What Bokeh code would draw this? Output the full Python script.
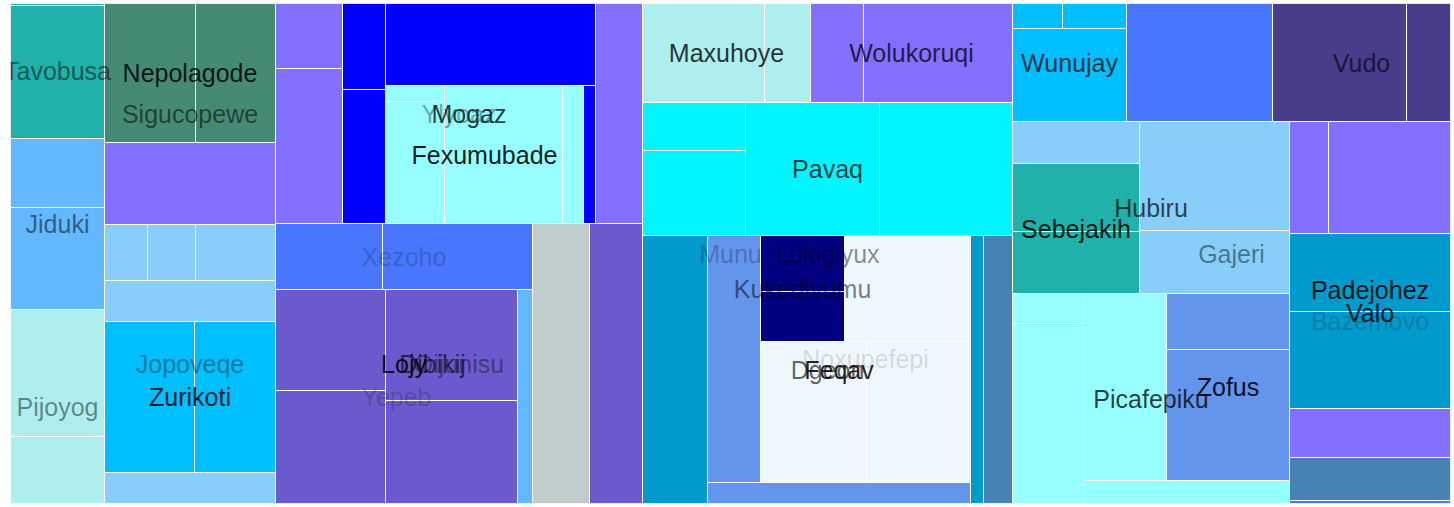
from bokeh.plotting import figure
from bokeh.models import Range1d, ColumnDataSource
from bokeh.core.properties import value
from bokeh.embed import file_html
from bokeh.resources import INLINE

# ---- hierarchy (pre-order); leaves carry a value (area) and a colour, groups a split direction
node = ["root",
        "A", "A1", "tav", "a1", "a2", "jid", "a3", "a4", "pij", "a5", "a6",
        "A2", "sig", "nep", "a7", "a8", "a9", "jop", "jt", "jr", "a10", "a11", "a12", "a13",
        "zur", "a14", "a15", "a16",
        "A3", "yly", "lc", "a17", "a18", "mog", "bc", "a19", "a20", "mid", "a21", "mr", "fex",
        "fc", "a22", "a23", "a24", "a25", "a26", "a27",
        "oij", "dib", "loj", "xez", "a28", "a29", "yr", "yep", "y1", "a30", "a31", "y2", "a32", "a33",
        "a34", "a35", "a36",
        "B", "bt", "br1", "max", "b1", "b2", "wol", "b3", "b4", "pav", "pc", "b5", "b6", "b7", "b8",
        "dge", "b9", "feq", "fr", "b10", "nox", "nr", "kuk", "b11", "b12", "b13", "nr2", "b14", "b15",
        "b16", "b17", "b18",
        "C", "ct", "wun", "wr", "c1", "c2", "c3", "c4", "vud", "c5", "c6",
        "cb", "cl", "hub", "hc1", "c7", "seb", "c8", "c9", "hc2", "c10", "c11",
        "pic", "pc1", "c12", "c13", "pc2", "pr", "c14", "zof", "c15", "c16", "c17",
        "val", "pad", "pr1", "c18", "c19", "baz", "c20", "c21", "c22", "c23", "c24"]

parent = ["",
          "root", "A", "A1", "tav", "tav", "A1", "jid", "jid", "A1", "pij", "pij",
          "A", "A2", "sig", "nep", "nep", "sig", "A2", "jop", "jt", "jr", "jr", "jr", "jt",
          "jop", "zur", "zur", "jop",
          "A", "A3", "yly", "lc", "lc", "yly", "mog", "bc", "bc", "mog", "mid", "mid", "mr",
          "fex", "fc", "fc", "fex", "fex", "mr", "yly",
          "A3", "oij", "dib", "loj", "xez", "xez", "loj", "yr", "yep", "y1", "y1", "yep", "y2", "y2",
          "yr", "dib", "oij",
          "root", "B", "bt", "br1", "max", "max", "br1", "wol", "wol", "bt", "pav", "pc", "pc", "pav", "pav",
          "B", "dge", "dge", "feq", "fr", "fr", "nox", "nr", "kuk", "kuk", "nr", "nox", "nr2", "nr2",
          "feq", "dge", "dge",
          "root", "C", "ct", "wun", "wr", "wr", "wun", "ct", "ct", "vud", "vud",
          "C", "cb", "cl", "hub", "hc1", "hc1", "seb", "seb", "hub", "hc2", "hc2",
          "cl", "pic", "pc1", "pc1", "pic", "pc2", "pr", "pr", "zof", "zof", "pc2",
          "cb", "val", "pad", "pr1", "pr1", "pad", "baz", "baz", "pad", "val", "val"]

area = {"a1": 188, "a2": 12502, "a3": 6486, "a4": 9588, "a5": 11938, "a6": 6298,
        "a7": 12649, "a8": 11120, "a9": 14022, "a10": 2408, "a11": 2688, "a12": 4480, "a13": 7011,
        "a14": 13590, "a15": 12231, "a16": 5301,
        "a17": 4355, "a18": 10385, "a19": 3698, "a20": 5762, "a21": 17220, "a22": 944, "a23": 7198,
        "a24": 16284, "a25": 2898, "a26": 1656, "a27": 10340,
        "a28": 7062, "a29": 9900, "a30": 11110, "a31": 12430, "a32": 14652, "a33": 13596,
        "a34": 3210, "a35": 15960, "a36": 14840,
        "b1": 12078, "b2": 4554, "b3": 5247, "b4": 14751, "b5": 4944, "b6": 8755, "b7": 17822, "b8": 17689,
        "b9": 17420, "b10": 13091, "b11": 4704, "b12": 4200, "b13": 13356, "b14": 14946, "b15": 14664,
        "b16": 5523, "b17": 3484, "b18": 7772,
        "c1": 1250, "c2": 1600, "c3": 10602, "c4": 17228, "c5": 15812, "c6": 5192,
        "c7": 5334, "c8": 8636, "c9": 7874, "c10": 16350, "c11": 9450,
        "c12": 2130, "c13": 12780, "c14": 15521, "c15": 6888, "c16": 16113, "c17": 4738,
        "c18": 4368, "c19": 13664, "c20": 12558, "c21": 15617, "c22": 7889, "c23": 6923, "c24": 483}

leaf_color = {"a1": "#20B2AA", "a2": "#20B2AA", "a3": "#63B8FF", "a4": "#63B8FF", "a5": "#AEEEEE", "a6": "#AEEEEE",
              "a7": "#458B74", "a8": "#458B74", "a9": "#8470FF", "a10": "#87CEFA", "a11": "#87CEFA",
              "a12": "#87CEFA", "a13": "#87CEFA", "a14": "#00BFFF", "a15": "#00BFFF", "a16": "#87CEFA",
              "a17": "#8470FF", "a18": "#8470FF", "a19": "#0000FF", "a20": "#0000FF", "a21": "#0000FF",
              "a22": "#97FFFF", "a23": "#97FFFF", "a24": "#97FFFF", "a25": "#97FFFF", "a26": "#0000FF",
              "a27": "#8470FF", "a28": "#4876FF", "a29": "#4876FF", "a30": "#6A5ACD", "a31": "#6A5ACD",
              "a32": "#6A5ACD", "a33": "#6A5ACD", "a34": "#63B8FF", "a35": "#C1CDCD", "a36": "#6A5ACD",
              "b1": "#AEEEEE", "b2": "#AEEEEE", "b3": "#8470FF", "b4": "#8470FF", "b5": "#00F5FF",
              "b6": "#00F5FF", "b7": "#00F5FF", "b8": "#00F5FF", "b9": "#009ACD", "b10": "#6495ED",
              "b11": "#000080", "b12": "#000080", "b13": "#F0F8FF", "b14": "#F0F8FF", "b15": "#F0F8FF",
              "b16": "#6495ED", "b17": "#009ACD", "b18": "#4682B4",
              "c1": "#00BFFF", "c2": "#00BFFF", "c3": "#00BFFF", "c4": "#4876FF", "c5": "#483D8B",
              "c6": "#483D8B", "c7": "#87CEFA", "c8": "#20B2AA", "c9": "#20B2AA", "c10": "#87CEFA",
              "c11": "#87CEFA", "c12": "#97FFFF", "c13": "#97FFFF", "c14": "#97FFFF", "c15": "#6495ED",
              "c16": "#6495ED", "c17": "#97FFFF", "c18": "#8470FF", "c19": "#8470FF", "c20": "#009ACD",
              "c21": "#009ACD", "c22": "#8470FF", "c23": "#4682B4", "c24": "#4876FF"}

split = {"root": "h", "A": "h", "A1": "v", "tav": "v", "jid": "v", "pij": "v", "A2": "v", "sig": "v",
         "nep": "h", "jop": "v", "jt": "v", "jr": "h", "zur": "h", "A3": "v", "yly": "h", "lc": "v",
         "mog": "h", "bc": "v", "mid": "v", "mr": "h", "fex": "h", "fc": "v", "oij": "h", "dib": "h",
         "loj": "v", "xez": "h", "yr": "h", "yep": "h", "y1": "v", "y2": "v",
         "B": "v", "bt": "v", "br1": "h", "max": "h", "wol": "h", "pav": "h", "pc": "v", "dge": "h",
         "feq": "v", "fr": "h", "nox": "v", "nr": "h", "kuk": "v", "nr2": "h",
         "C": "v", "ct": "h", "wun": "v", "wr": "h", "vud": "h", "cb": "h", "cl": "v", "hub": "h",
         "hc1": "v", "seb": "v", "hc2": "v", "pic": "h", "pc1": "v", "pc2": "v", "pr": "h", "zof": "v",
         "val": "v", "pad": "v", "pr1": "h", "baz": "v"}

label = {"root": "Munu", "tav": "Tavobusa", "jid": "Jiduki", "pij": "Pijoyog", "sig": "Sigucopewe",
         "nep": "Nepolagode", "jop": "Jopoveqe", "zur": "Zurikoti", "yly": "Ylyoaz", "mog": "Mogaz",
         "fex": "Fexumubade", "oij": "Oijunisu", "dib": "Dibikij", "loj": "Lojy", "xez": "Xezoho",
         "yep": "Yepeb", "B": "Lokigiyux", "max": "Maxuhoye", "wol": "Wolukoruqi", "pav": "Pavaq",
         "dge": "Dgeon", "feq": "Feqav", "nox": "Noxupefepi", "kuk": "Kukedivumu", "C": "Gajeri",
         "wun": "Wunujay", "vud": "Vudo", "hub": "Hubiru", "seb": "Sebejakih", "pic": "Picafepiku",
         "zof": "Zofus", "val": "Valo", "pad": "Padejohez", "baz": "Bazemovo"}

label_alpha = {"root": 0.25, "tav": 0.5, "jid": 0.5, "pij": 0.45, "sig": 0.55, "nep": 0.85, "jop": 0.4,
               "zur": 0.85, "yly": 0.35, "mog": 0.75, "fex": 0.9, "oij": 0.4, "dib": 0.65, "loj": 0.9,
               "xez": 0.2, "yep": 0.2, "B": 0.45, "max": 0.8, "wol": 0.75, "pav": 0.75, "dge": 0.6,
               "feq": 0.85, "nox": 0.15, "kuk": 0.5, "C": 0.45, "wun": 0.75, "vud": 0.65, "hub": 0.7,
               "seb": 0.9, "pic": 0.75, "zof": 0.9, "val": 0.85, "pad": 0.9, "baz": 0.2}

# ---- slice layout computed from the values
W, H = 1440, 500
children = {n: [] for n in node}
for n, par in zip(node, parent):
    if par:
        children[par].append(n)

total = {}
def tot(n):
    if not children[n]:
        total[n] = area[n]
    else:
        total[n] = sum(tot(k) for k in children[n])
    return total[n]
tot("root")

rect = {}
def layout(n, x0, y0, x1, y1):
    rect[n] = (x0, y0, x1, y1)
    kids = children[n]
    if not kids:
        return
    s = sum(total[k] for k in kids)
    pos = x0 if split[n] == "h" else y0
    for k in kids:
        if split[n] == "h":
            w = (x1 - x0) * total[k] / s
            layout(k, pos, y0, pos + w, y1)
        else:
            w = (y1 - y0) * total[k] / s
            layout(k, x0, pos, x1, pos + w)
        pos += w
layout("root", 0, 0, W, H)

leaves = [n for n in node if not children[n]]
rsrc = ColumnDataSource(dict(
    left=[rect[n][0] for n in leaves], right=[rect[n][2] for n in leaves],
    top=[rect[n][1] for n in leaves], bottom=[rect[n][3] for n in leaves],
    color=[leaf_color[n] for n in leaves]))

labelled = [n for n in node if n in label]
tsrc = ColumnDataSource(dict(
    x=[(rect[n][0] + rect[n][2]) / 2 for n in labelled],
    y=[(rect[n][1] + rect[n][3]) / 2 for n in labelled],
    text=[label[n] for n in labelled],
    alpha=[label_alpha[n] for n in labelled]))

p = figure(width=1454, height=507, output_backend="svg", toolbar_location=None,
           x_range=Range1d(0, W), y_range=Range1d(H, 0),
           x_axis_location=None, y_axis_location=None,
           min_border_left=10, min_border_right=4, min_border_top=3, min_border_bottom=4)
p.grid.visible = False
p.outline_line_color = None
p.background_fill_color = "white"
p.border_fill_color = "white"

p.quad(left="left", right="right", top="top", bottom="bottom", source=rsrc,
       fill_color="color", line_color="white", line_width=1)
p.text(x="x", y="y", text="text", source=tsrc, text_align="center", text_baseline="middle",
       text_font=value("Liberation Sans"), text_font_size="25px", text_color="black",
       text_alpha="alpha")

open("out.html", "w").write(file_html(p, INLINE))
